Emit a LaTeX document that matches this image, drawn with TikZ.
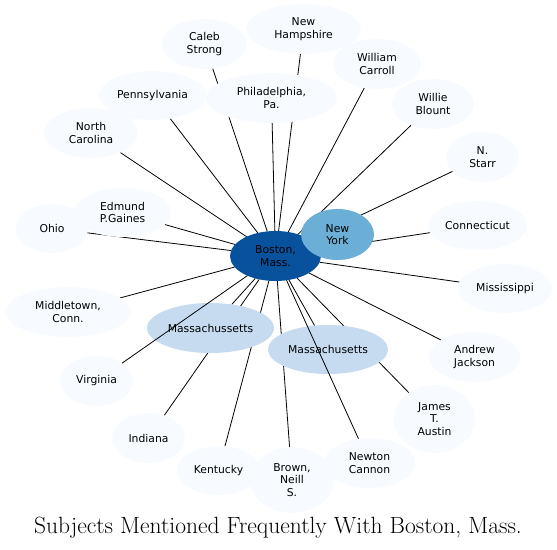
\documentclass[tikz,border=0pt]{standalone}
\usepackage{fontspec}
\newfontfamily\nodefont{DejaVu Sans}
\usetikzlibrary{shapes.geometric,backgrounds}
\definecolor{cLight}{HTML}{F7FBFF}
\definecolor{cMid}{HTML}{C6DBEF}
\definecolor{cNY}{HTML}{6BAED6}
\definecolor{cBos}{HTML}{08519C}
\tikzset{
  bub/.style args={#1/#2}{shape=ellipse, fill=cLight, draw=none, inner sep=0pt, outer sep=0pt,
    minimum width=#1pt, minimum height=#2pt, align=center,
    font=\nodefont\fontsize{10.8}{12.5}\selectfont, text=black},
  mid/.style={fill=cMid},
  edge/.style={draw=black, line width=0.8pt},
}
\begin{document}
\begin{tikzpicture}[x=1pt,y=-1pt]
\useasboundingbox (0,0) rectangle (557,549);
% nodes
\node[bub=85/50]  (caleb) at (204.5,44) {Caleb\\Strong};
\node[bub=115/50] (nh)    at (303.5,29) {New\\Hampshire};
\node[bub=131/50] (phil)  at (271.5,98) {Philadelphia,\\Pa.};
\node[bub=88/50]  (wcar)  at (377,64) {William\\Carroll};
\node[bub=82/50]  (wbl)   at (433,104) {Willie\\Blount};
\node[bub=73/50]  (starr) at (482.5,157) {N.\\Starr};
\node[bub=107/49] (penn)  at (152.5,95.5) {Pennsylvania};
\node[bub=94/50]  (nc)    at (91,133) {North\\Carolina};
\node[bub=72/49]  (ohio)  at (52,228.5) {Ohio};
\node[bub=97/49]  (edm)   at (122.5,212.5) {Edmund\\P.Gaines};
\node[bub=99/49]  (conn)  at (477.5,225.5) {Connecticut};
\node[bub=94/49]  (miss)  at (505,288.5) {Mississippi};
\node[bub=126/50] (midd)  at (68,312) {Middletown,\\Conn.};
\node[bub=73/50]  (virg)  at (96.5,381) {Virginia};
\node[bub=91/50]  (aj)    at (474.5,357) {Andrew\\Jackson};
\node[bub=81/68]  (jta)   at (434.5,419) {James\\T.\\Austin};
\node[bub=73/50]  (ind)   at (148.5,438) {Indiana};
\node[bub=83/49]  (kent)  at (218.5,470.5) {Kentucky};
\node[bub=84/66]  (brown) at (292,480) {Brown,\\Neill\\S.};
\node[bub=91/50]  (newt)  at (369.5,463) {Newton\\Cannon};
\node[bub=127/50, mid] (massa) at (210.5,328) {Massachussetts};
\node[bub=120/49, mid] (massb) at (328,349.5) {Massachusetts};
\node[bub=91/50, fill=cBos] (bos) at (275.5,256) {Boston,\\Mass.};
\node[bub=73/51, fill=cNY] (ny) at (337.5,234.5) {New\\York};
% edges hidden under nodes
\begin{pgfonlayer}{background}
\foreach \t in {caleb,nh,phil,wcar,wbl,starr,penn,nc,ohio,edm,conn,miss,midd,aj,jta,ind,kent,brown,massa,massb,ny}
  \draw[edge] (bos) -- (\t);
\end{pgfonlayer}
% edges drawn over nodes
\draw[edge] (bos) -- (virg);
\draw[edge] (bos) -- (newt);
% title
\node[font=\fontsize{23.5}{26}\selectfont, inner sep=0pt, anchor=base] (title) at (278,533) {Subjects Mentioned Frequently With Boston, Mass.};
\end{tikzpicture}
\end{document}
